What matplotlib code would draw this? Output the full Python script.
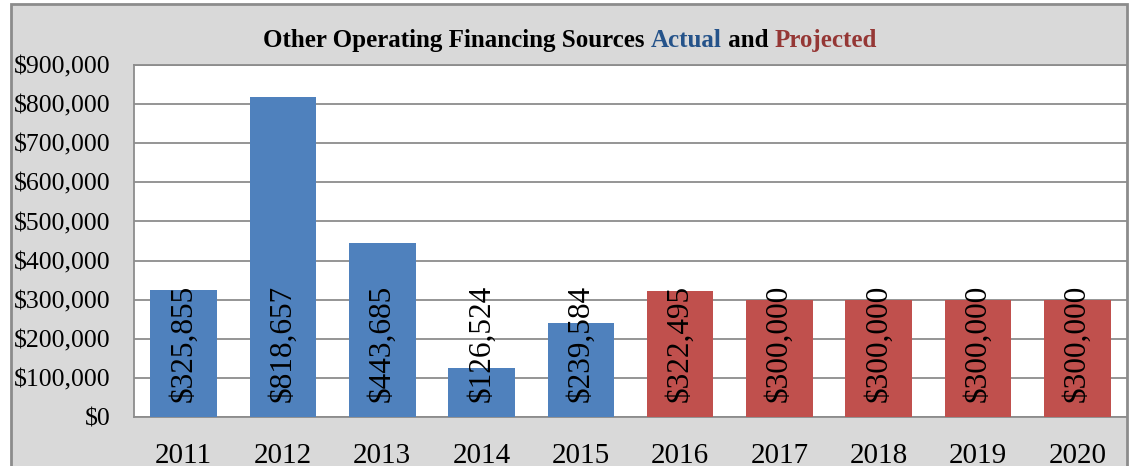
import matplotlib
matplotlib.use('Agg')
import matplotlib.pyplot as plt
from matplotlib.patches import Rectangle
from matplotlib.ticker import FuncFormatter

# Chart data
years = ['2011', '2012', '2013', '2014', '2015', '2016', '2017', '2018', '2019', '2020']
amounts = [325855, 818657, 443685, 126524, 239584, 322495, 300000, 300000, 300000, 300000]
is_actual = [True, True, True, True, True, False, False, False, False, False]

col_actual = '#4F81BD'
col_proj = '#C0504D'
grid_col = '#8C8C8C'
font = 'Liberation Serif'

W, H = 1130, 466
fig = plt.figure(figsize=(W / 100, H / 100), dpi=100)
fig.patch.set_facecolor('white')

# gray chart frame
frame = Rectangle((11 / W, -0.1), (1127 - 11) / W, 1.1 - 4 / H, transform=fig.transFigure,
                  facecolor='#D9D9D9', edgecolor='#8C8C8C', linewidth=2, zorder=-1)
fig.patches.append(frame)

ax = fig.add_axes([134 / W, (H - 417) / H, 993 / W, (417 - 65) / H])
ax.set_zorder(1)
ax.set_facecolor('white')

x = range(len(years))
colors = [col_actual if a else col_proj for a in is_actual]
ax.bar(x, amounts, width=0.67, color=colors, zorder=3)

ax.set_ylim(0, 900000)
ax.set_xlim(-0.5, len(years) - 0.5)
ax.set_yticks(range(0, 900001, 100000))
ax.yaxis.set_major_formatter(FuncFormatter(lambda v, p: '${:,.0f}'.format(v)))
ax.set_xticks(list(x))
ax.set_xticklabels(years)
ax.grid(axis='y', color=grid_col, linewidth=1.3, zorder=0)
ax.set_axisbelow(True)
ax.tick_params(axis='y', length=0, pad=17, labelsize=18.5)
ax.tick_params(axis='x', length=0, pad=19, labelsize=21)
for lab in ax.get_xticklabels() + ax.get_yticklabels():
    lab.set_fontfamily(font)
for s in ax.spines.values():
    s.set_color(grid_col)
    s.set_linewidth(1.3)

# value labels, rotated, anchored near the base
for i, v in enumerate(amounts):
    ax.annotate('${:,.0f}'.format(v), xy=(i, 0), xytext=(0, 11), textcoords='offset points',
                rotation=90, ha='center', va='bottom', fontsize=22.5, family=font, zorder=4)

# title with coloured words
parts = [('Other Operating Financing Sources ', 'black'), ('Actual', '#25538A'),
         (' and ', 'black'), ('Projected', '#953735')]
renderer = fig.canvas.get_renderer()
texts = []
total = 0
for s, c in parts:
    t = fig.text(0, 0, s, color=c, fontsize=18, fontweight='bold', family=font)
    w = t.get_window_extent(renderer).width
    texts.append((t, w))
    total += w
xpos = 570 - total / 2
for t, w in texts:
    t.set_position((xpos / W, (H - 47) / H))
    xpos += w

fig.savefig('out.png', dpi=100)
